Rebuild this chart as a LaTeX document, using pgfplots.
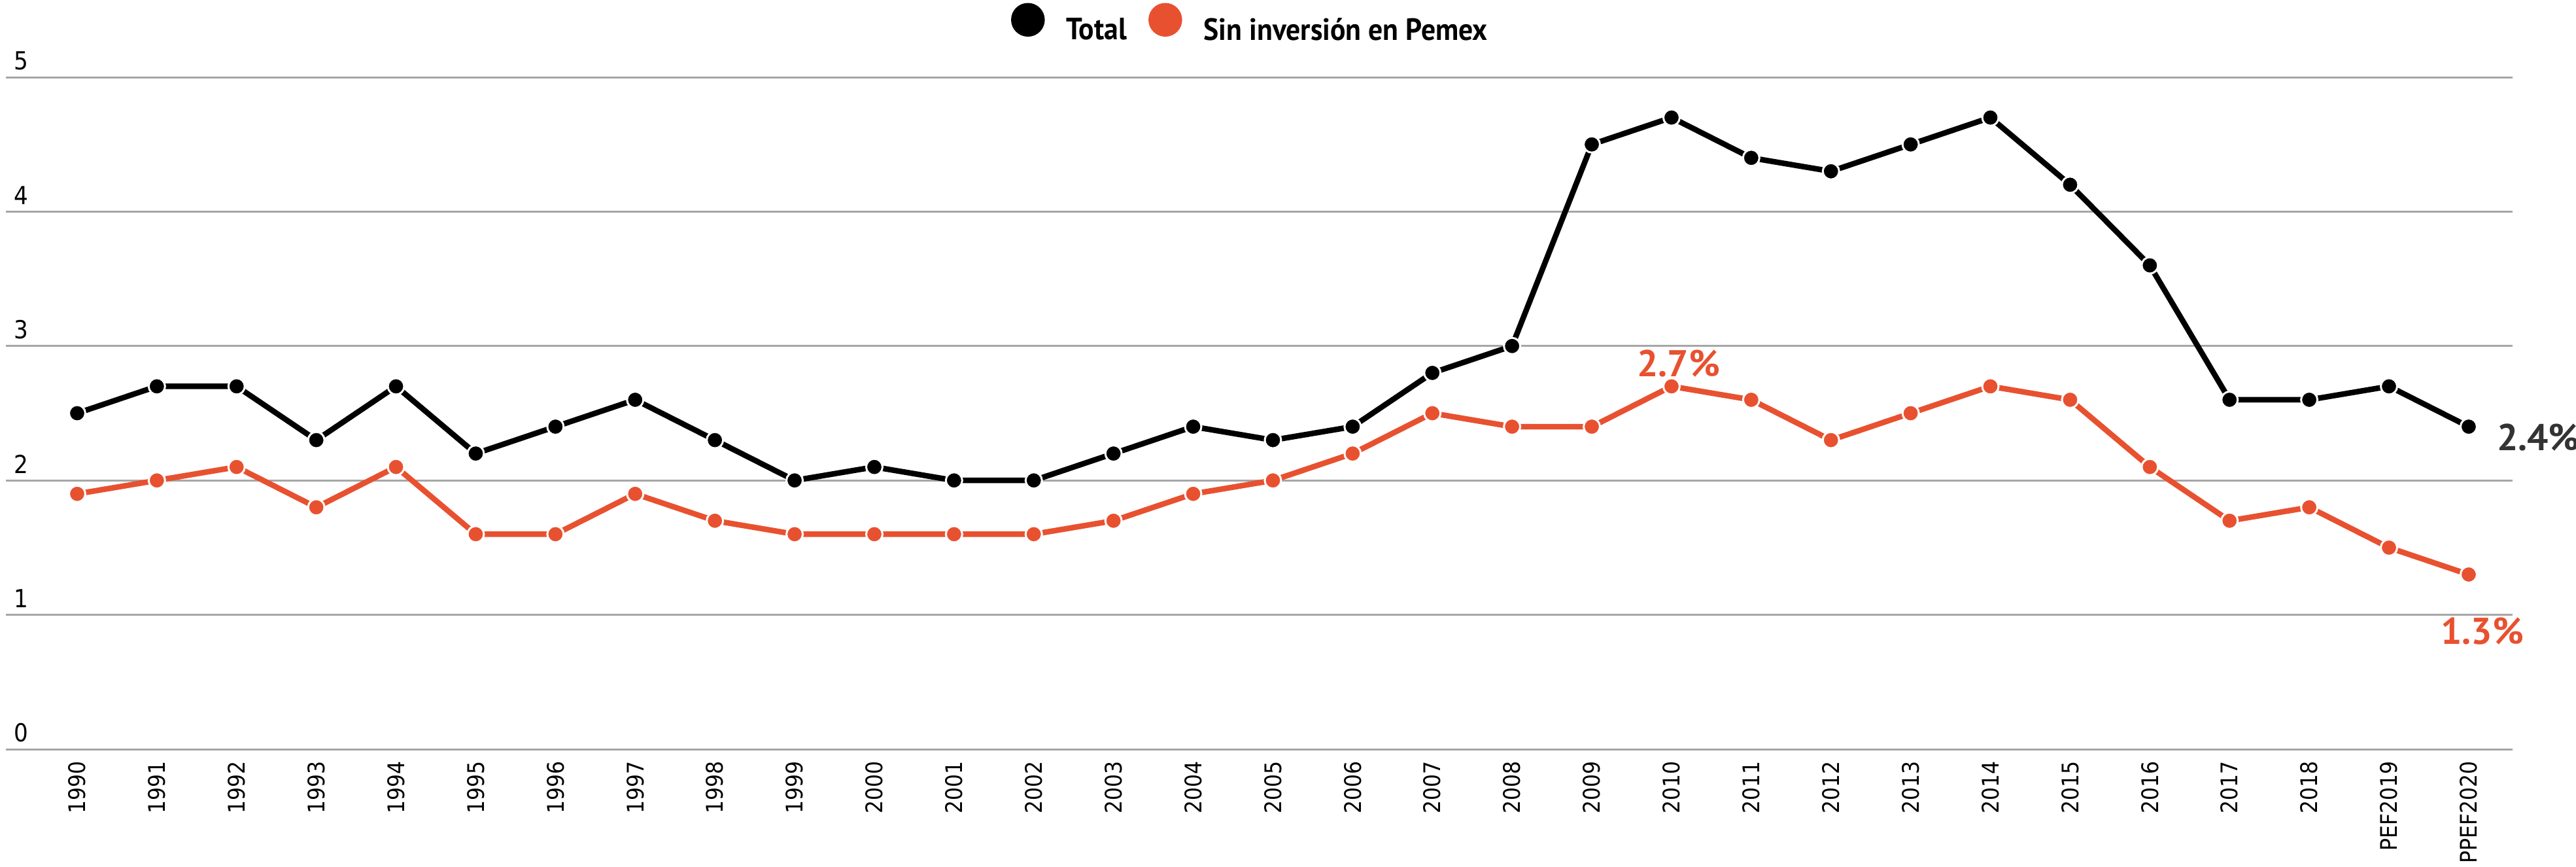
\documentclass[border=0pt]{standalone}
\usepackage{pgfplots}
\pgfplotsset{compat=1.18}
\usepackage{fontspec}
\setmainfont{PT Sans}
\newfontfamily\ptsans{PT Sans}
\newfontfamily\legfont{PT Sans}[FakeStretch=0.93]
\newfontfamily\ticfont{DejaVu Sans Condensed}
\definecolor{orng}{HTML}{E85130}
\definecolor{gridc}{HTML}{A6A6A6}
\definecolor{dgray}{HTML}{333333}
\begin{document}
\begin{tikzpicture}
\path[use as bounding box] (-0.9mm,-17.9mm) rectangle (393.0mm,114.5mm);
\begin{axis}[
  at={(0,0)}, anchor=south west, scale only axis,
  width=383.3mm, height=102.7mm,
  xmin=-0.894, xmax=30.55, ymin=0, ymax=5,
  axis line style={draw=none},
  major tick style={draw=none},
  ytick={0,1,2,3,4,5},
  ymajorgrids, grid style={gridc, line width=0.3mm},
  xtick={0,...,30},
  xticklabels={1990,1991,1992,1993,1994,1995,1996,1997,1998,1999,2000,2001,2002,2003,2004,2005,2006,2007,2008,2009,2010,2011,2012,2013,2014,2015,2016,2017,2018,PEF2019,PPEF2020},
  xticklabel style={rotate=90, anchor=east, inner sep=0pt, font=\ticfont\fontsize{3.5mm}{4mm}\selectfont},
  xticklabel shift=1.8mm,
  yticklabel style={anchor=south west, inner sep=0pt, xshift=1.2mm, yshift=1.0mm, font=\ticfont\fontsize{3.8mm}{4.4mm}\selectfont},
  /pgf/number format/assume math mode=true,
  clip=false,
  legend columns=2,
  legend style={at={(0.497,1.077)}, anchor=center, draw=none, fill=none,
    font=\legfont\bfseries\fontsize{4.7mm}{5.5mm}\selectfont,
    column sep=2.6mm, inner sep=0pt},
  legend image code/.code={\fill[#1] (2.15mm,1.65mm) circle (2.15mm);},
]
\addplot[color=black, line width=0.85mm, mark=*, mark size=1.25mm,
  mark options={draw=white, fill=black, line width=0.3mm}] coordinates {
(0,2.5) (1,2.7) (2,2.7) (3,2.3) (4,2.7) (5,2.2) (6,2.4) (7,2.6) (8,2.3) (9,2.0)
(10,2.1) (11,2.0) (12,2.0) (13,2.2) (14,2.4) (15,2.3) (16,2.4) (17,2.8) (18,3.0) (19,4.5)
(20,4.7) (21,4.4) (22,4.3) (23,4.5) (24,4.7) (25,4.2) (26,3.6) (27,2.6) (28,2.6) (29,2.7) (30,2.4)
};
\addlegendentry{Total}
\addplot[color=orng, line width=0.85mm, mark=*, mark size=1.25mm,
  mark options={draw=white, fill=orng, line width=0.3mm}] coordinates {
(0,1.9) (1,2.0) (2,2.1) (3,1.8) (4,2.1) (5,1.6) (6,1.6) (7,1.9) (8,1.7) (9,1.6)
(10,1.6) (11,1.6) (12,1.6) (13,1.7) (14,1.9) (15,2.0) (16,2.2) (17,2.5) (18,2.4) (19,2.4)
(20,2.7) (21,2.6) (22,2.3) (23,2.5) (24,2.7) (25,2.6) (26,2.1) (27,1.7) (28,1.8) (29,1.5) (30,1.3)
};
\addlegendentry{Sin inversión en Pemex}
\node[anchor=west, inner sep=0pt, text=dgray, font=\ptsans\bfseries\fontsize{5.7mm}{6.5mm}\selectfont] at (axis cs:30.35,2.32) {2.4\%};
\node[inner sep=0pt, text=orng, font=\ptsans\bfseries\fontsize{5.7mm}{6.5mm}\selectfont] at (axis cs:30.17,0.88) {1.3\%};
\node[inner sep=0pt, text=orng, font=\ptsans\bfseries\fontsize{5.7mm}{6.5mm}\selectfont] at (axis cs:20.09,2.87) {2.7\%};
\end{axis}
\end{tikzpicture}
\end{document}
